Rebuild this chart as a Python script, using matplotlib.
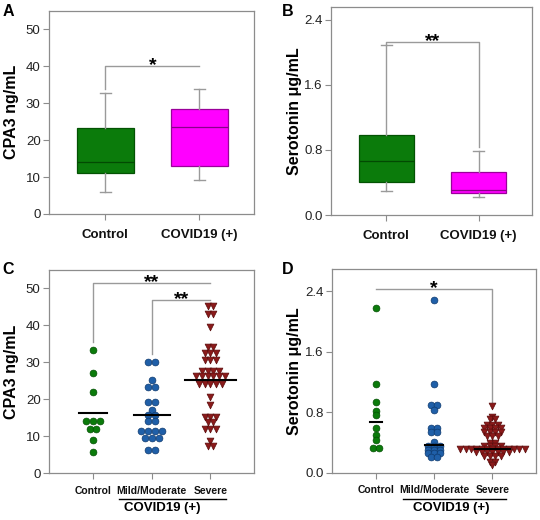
import numpy as np
import matplotlib
matplotlib.use("Agg")
import matplotlib.pyplot as plt
from matplotlib.ticker import FormatStrFormatter

plt.rcParams['font.family'] = ['Liberation Sans', 'DejaVu Sans']

# ---- data ----
box_labels = ["Control", "COVID19 (+)"]
# whislo, q1, median, q3, whishi
cpa3_box = [[6.0, 11.0, 14.0, 23.2, 32.7],
            [9.3, 13.0, 23.5, 28.3, 33.7]]
sero_box = [[0.29, 0.40, 0.66, 0.98, 2.09],
            [0.22, 0.27, 0.31, 0.53, 0.79]]

group_labels = ["Control", "Mild/Moderate", "Severe"]
cpa3_control = [33.3, 27.0, 22.1, 14.1, 14.1, 14.1, 11.9, 11.9, 9.0, 5.8]
cpa3_mild = [30.0, 30.0, 25.2, 23.4, 23.4, 19.2, 19.2, 17.1, 15.8, 15.8, 14.1, 14.1,
             11.5, 11.5, 11.5, 11.5, 9.6, 9.6, 9.6, 6.2, 6.2]
cpa3_severe = [45.2, 45.2, 43.0, 43.0, 39.5, 34.1, 34.1, 32.6, 32.6, 32.6,
               30.6, 30.6, 30.6, 27.8, 27.8, 27.8, 27.8,
               26.2, 26.2, 26.2, 26.2, 26.2, 26.2, 24.2, 24.2, 24.2, 24.2, 24.2,
               20.7, 18.5, 15.1, 15.1, 15.1, 13.8, 13.8, 11.9, 11.9, 11.9, 8.8, 7.4, 7.4]
cpa3_centers = [16.3, 15.9, 25.2]

sero_control = [2.185, 1.18, 0.94, 0.82, 0.77, 0.60, 0.50, 0.435, 0.325, 0.325]
sero_mild = [2.28, 1.18, 0.90, 0.90, 0.83, 0.60, 0.60, 0.545, 0.545, 0.41,
             0.35, 0.35, 0.35, 0.30, 0.30, 0.30, 0.26, 0.26, 0.26, 0.215, 0.215]
sero_severe = [0.88, 0.74, 0.71, 0.71, 0.63, 0.63, 0.63, 0.59, 0.59, 0.59, 0.59,
               0.545, 0.545, 0.545, 0.545, 0.49, 0.49, 0.49, 0.39, 0.39,
               0.35, 0.35, 0.35, 0.35] + [0.32] * 13 + [0.28] * 7 + \
              [0.22, 0.22, 0.22, 0.22, 0.15, 0.15, 0.10]
sero_centers = [0.68, 0.37, 0.32]

FRAME = "#8c8c8c"
GRAY = "#9a9a9a"
GREEN = "#0b7b0b"
MAGENTA = "#ff00ff"
BLUE = "#1f5fa8"
RED = "#8b1a1a"

fig = plt.figure(figsize=(5.4, 5.2), dpi=100)
axA = fig.add_axes([0.0907, 0.5885, 0.3796, 0.391])
axB = fig.add_axes([0.613, 0.5865, 0.3722, 0.3994])
axC = fig.add_axes([0.0907, 0.0898, 0.3796, 0.391])
axD = fig.add_axes([0.6148, 0.0904, 0.3772, 0.3917])


def style(ax, ylim, yticks, ylabel, fmt=None):
    ax.set_ylim(*ylim)
    ax.set_yticks(yticks)
    if fmt:
        ax.yaxis.set_major_formatter(FormatStrFormatter(fmt))
    for s in ax.spines.values():
        s.set_color(FRAME)
        s.set_linewidth(0.9)
    ax.tick_params(direction="out", length=4, width=0.8, color=FRAME,
                   labelsize=9.5, labelcolor="#222222", pad=2)
    ax.set_ylabel(ylabel, fontsize=11.5, fontweight="bold")
    ax.yaxis.set_label_coords(-0.145, 0.5)


def bracket(ax, x1, x2, y, text, left=None, right=None):
    xs, ys = [x1, x2], [y, y]
    if left is not None:
        xs, ys = [x1] + xs, [left] + ys
    if right is not None:
        xs, ys = xs + [x2], ys + [right]
    ax.plot(xs, ys, color=GRAY, lw=1)
    ax.annotate(text, ((x1 + x2) / 2, y), xytext=(0, -3), textcoords="offset points",
                ha="center", va="baseline", fontsize=14, fontweight="bold")


def boxes(ax, rows):
    stats = [dict(whislo=r[0], q1=r[1], med=r[2], q3=r[3], whishi=r[4]) for r in rows]
    bp = ax.bxp(stats, positions=[1, 2], widths=0.6, patch_artist=True,
                showfliers=False, capwidths=0.12,
                whiskerprops=dict(color=GRAY, lw=1),
                capprops=dict(color=GRAY, lw=1),
                medianprops=dict(lw=0.9))
    for patch, fc, ec in zip(bp["boxes"], [GREEN, MAGENTA], ["#035203", "#9a009a"]):
        patch.set_facecolor(fc)
        patch.set_edgecolor(ec)
        patch.set_linewidth(0.9)
    for med, ec in zip(bp["medians"], ["#024a02", "#8a008a"]):
        med.set_color(ec)
    ax.set_xlim(0.4, 2.58)
    ax.set_xticks([1, 2])


def offsets(vals, step):
    vals = np.asarray(vals)
    out = np.zeros(len(vals))
    for v in np.unique(vals):
        idx = np.where(vals == v)[0]
        n = len(idx)
        out[idx] = (np.arange(n) - (n - 1) / 2) * step
    return out


def dots(ax, groups, centers, halfw, steps):
    styles = [dict(marker="o", c=GREEN, edgecolors="#045004"),
              dict(marker="o", c=BLUE, edgecolors="#0f3a6e"),
              dict(marker="v", c=RED, edgecolors="#5a0c0c")]
    for i, (vals, st, step) in enumerate(zip(groups, styles, steps)):
        x = i + 1 + offsets(vals, step)
        ax.scatter(x, vals, s=24, linewidths=0.5, zorder=3, **st)
        ax.plot([i + 1 - halfw[i], i + 1 + halfw[i]], [centers[i]] * 2,
                color="black", lw=1.5, zorder=4)
    ax.set_xlim(0.25, 3.74)
    ax.set_xticks([1, 2, 3])


# A
boxes(axA, cpa3_box)
style(axA, (0, 55), [0, 10, 20, 30, 40, 50], "CPA3 ng/mL")
bracket(axA, 1, 2, 40, "*", left=33.8)

# B
boxes(axB, sero_box)
style(axB, (0, 2.55), [0, 0.8, 1.6, 2.4], "Serotonin μg/mL", "%.1f")
bracket(axB, 1, 2, 2.13, "**", left=2.09, right=0.84)

for ax in (axA, axB):
    ax.set_xticklabels(box_labels, fontsize=9.5, fontweight="bold", color="#111111")
    ax.tick_params(axis="x", pad=7)

# C
dots(axC, [cpa3_control, cpa3_mild, cpa3_severe], cpa3_centers,
     [0.245, 0.31, 0.43], [0.118, 0.118, 0.1])
style(axC, (0, 55), [0, 10, 20, 30, 40, 50], "CPA3 ng/mL")
bracket(axC, 1, 3, 51.6, "**", left=35.6)
bracket(axC, 2, 3, 46.8, "**", left=32.2)

# D
dots(axD, [sero_control, sero_mild, sero_severe], sero_centers,
     [0.1, 0.15, 0.3], [0.105, 0.105, 0.092])
style(axD, (0, 2.69), [0, 0.8, 1.6, 2.4], "Serotonin μg/mL", "%.1f")
bracket(axD, 1, 3, 2.435, "*", right=0.94)

for ax, x0, x1, xt in [(axC, 1.45, 3.27, 2.18), (axD, 1.465, 3.24, 2.3)]:
    ax.set_xticklabels(group_labels, fontsize=7.5, fontweight="bold", color="#111111")
    ax.tick_params(axis="x", pad=5)
    tr = ax.get_xaxis_transform()
    ax.plot([x0, x1], [-0.128, -0.128], transform=tr, color="black", lw=1, clip_on=False)
    ax.text(xt, -0.172, "COVID19 (+)", transform=tr, ha="center", va="center",
            fontsize=9.5, fontweight="bold")

for letter, x, y in [("A", 0.005, 0.992), ("B", 0.522, 0.992),
                     ("C", 0.005, 0.497), ("D", 0.522, 0.497)]:
    fig.text(x, y, letter, fontsize=11.5, fontweight="bold", va="top")

fig.savefig("out.png", dpi=100)
